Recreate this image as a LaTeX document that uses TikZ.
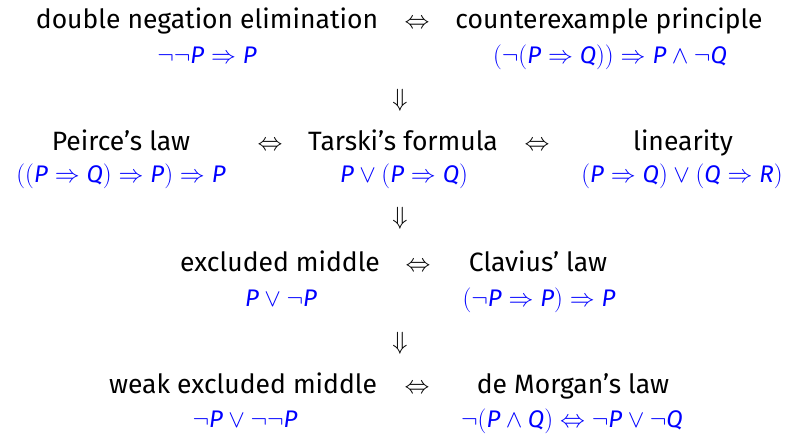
\documentclass[tikz,border=0pt]{standalone}
\usepackage{fontspec}
\setmainfont{Fira Sans}
\newcommand\vP{\textit{P}}
\newcommand\vQ{\textit{Q}}
\newcommand\vR{\textit{R}}
\begin{document}
\begin{tikzpicture}[x=1pt,y=-1pt,
  title/.style={anchor=base,inner sep=0pt,font=\fontsize{26.5}{30}\selectfont},
  formula/.style={anchor=base,inner sep=0pt,text=blue,font=\fontsize{24}{28}\selectfont},
  iff/.style={anchor=base,inner sep=0pt,font=\fontsize{25}{30}\selectfont},
  impl/.style={anchor=center,inner sep=0pt,font=\fontsize{25}{30}\selectfont}]
\useasboundingbox (0,0) rectangle (791,433);
% row 1
\node[title] (dne) at (207,29) {double negation elimination};
\node[iff] (i1) at (417,29) {$\Leftrightarrow$};
\node[title] (cp) at (609,29) {counterexample principle};
\node[formula] (dnef) at (207,64) {$\neg\neg\vP \Rightarrow \vP$};
\node[formula] (cpf) at (610,64) {$(\neg(\vP \Rightarrow \vQ)) \Rightarrow \vP \wedge \neg\vQ$};
\node[impl] (d1) at (400,100) {$\Downarrow$};
% row 2
\node[title] (pl) at (121,150) {Peirce’s law};
\node[iff] (i2) at (270,150) {$\Leftrightarrow$};
\node[title] (tf) at (403,150) {Tarski’s formula};
\node[iff] (i3) at (537,150) {$\Leftrightarrow$};
\node[title] (lin) at (683,150) {linearity};
\node[formula] (plf) at (121,182) {$((\vP \Rightarrow \vQ) \Rightarrow \vP) \Rightarrow \vP$};
\node[formula] (tff) at (404,182) {$\vP \vee (\vP \Rightarrow \vQ)$};
\node[formula] (linf) at (682,182) {$(\vP \Rightarrow \vQ) \vee (\vQ \Rightarrow \vR)$};
\node[impl] (d2) at (400,218) {$\Downarrow$};
% row 3
\node[title] (em) at (280,271) {excluded middle};
\node[iff] (i4) at (418,271) {$\Leftrightarrow$};
\node[title] (cl) at (538,271) {Clavius’ law};
\node[formula] (emf) at (281,306) {$\vP \vee \neg\vP$};
\node[formula] (clf) at (539,306) {$(\neg\vP \Rightarrow \vP) \Rightarrow \vP$};
\node[impl] (d3) at (400,343) {$\Downarrow$};
% row 4
\node[title] (wem) at (243,393) {weak excluded middle};
\node[iff] (i5) at (417,393) {$\Leftrightarrow$};
\node[title] (dm) at (573,393) {de Morgan’s law};
\node[formula] (wemf) at (245,427) {$\neg\vP \vee \neg\neg\vP$};
\node[formula] (dmf) at (572,427) {$\neg(\vP \wedge \vQ) \Leftrightarrow \neg\vP \vee \neg\vQ$};
\end{tikzpicture}
\end{document}
